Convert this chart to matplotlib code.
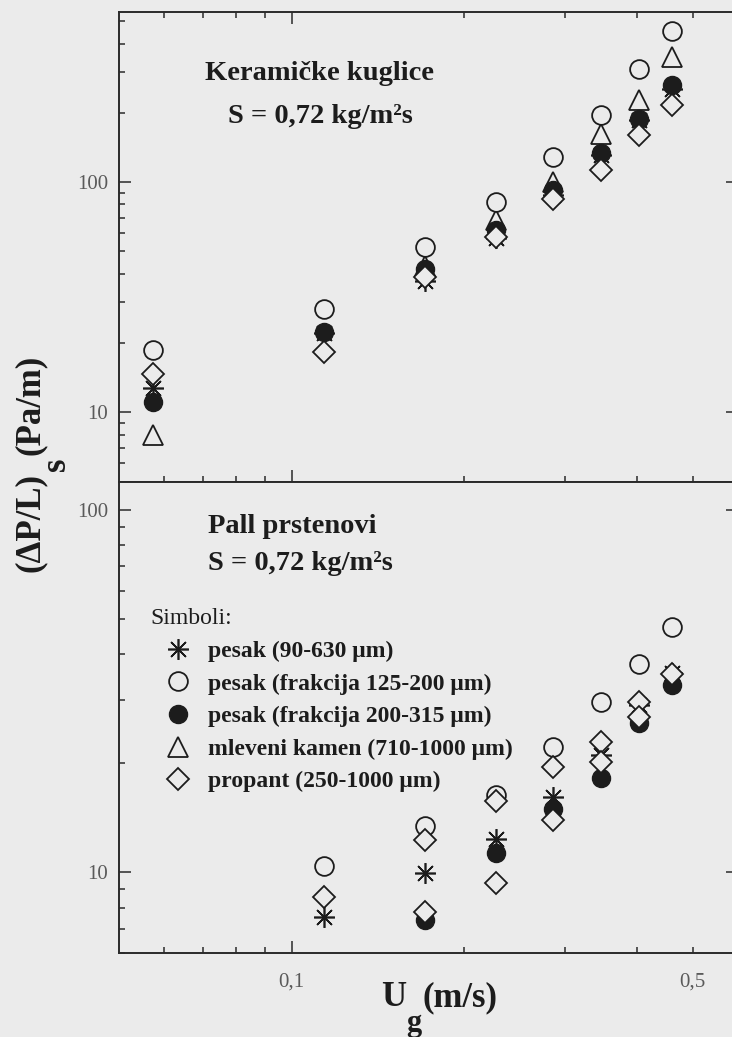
import matplotlib
matplotlib.use("Agg")
import matplotlib.pyplot as plt
from matplotlib.ticker import LogLocator, FixedLocator, FuncFormatter, NullFormatter

# brzina gasa U_g (m/s)
ug_ker = [0.0574, 0.114, 0.171, 0.227, 0.286, 0.346, 0.403, 0.46]
ug_ker_kamen = [0.0574, 0.171, 0.227, 0.286, 0.346, 0.403, 0.46]

# keramičke kuglice, (ΔP/L)_s (Pa/m)
ker_pesak = [12.7, 22.0, 37.0, 57.0, 88.0, 131.0, 186.0, 255.0]
ker_fr125 = [18.7, 28.1, 52.2, 81.9, 128.5, 195.0, 311.0, 453.0]
ker_fr200 = [11.05, 22.3, 42.0, 62.0, 92.0, 134.0, 188.7, 263.0]
ker_kamen = [8.0, 43.0, 68.2, 100.0, 162.0, 228.0, 350.0]
ker_propant = [14.7, 18.2, 38.6, 57.7, 84.7, 112.4, 160.0, 217.0]

# Pall prstenovi
pall_pesak_x = [0.114, 0.171, 0.227, 0.286, 0.346, 0.403, 0.46]
pall_pesak = [7.55, 9.95, 12.4, 16.2, 21.1, 29.0, 35.5]
pall_fr125_x = [0.114, 0.171, 0.227, 0.286, 0.346, 0.403, 0.46]
pall_fr125 = [10.4, 13.4, 16.4, 22.2, 29.6, 37.7, 47.6]
pall_fr200_x = [0.171, 0.227, 0.286, 0.346, 0.403, 0.46]
pall_fr200 = [7.4, 11.3, 15.0, 18.2, 25.8, 32.9]
pall_kamen_x = []
pall_kamen = []
pall_propant_x = [0.114, 0.171, 0.171, 0.227, 0.227, 0.286, 0.286,
                  0.346, 0.346, 0.403, 0.403, 0.46]
pall_propant = [8.54, 12.3, 7.8, 15.7, 9.33, 19.6, 13.96,
                22.9, 20.2, 29.6, 26.9, 35.4]

labels = ["pesak (90-630 μm)",
          "pesak (frakcija 125-200 μm)",
          "pesak (frakcija 200-315 μm)",
          "mleveni kamen (710-1000 μm)",
          "propant (250-1000 μm)"]

bg = "#ebebeb"
ink = "#1c1c1c"
serif = ["Liberation Serif", "DejaVu Serif"]
plt.rcParams["font.family"] = serif

W, H = 732, 1037
fig = plt.figure(figsize=(W / 100, H / 100), dpi=100, facecolor=bg)


def fx(px):
    return px / W


def fy(py):
    return 1 - py / H


ax1 = fig.add_axes([fx(119), fy(481.5), fx(738) - fx(119), fy(11.7) - fy(481.5)])
ax2 = fig.add_axes([fx(119), fy(952.8), fx(738) - fx(119), fy(481.5) - fy(952.8)])

# stilovi simbola
star = dict(marker=(8, 2, 0), ms=15, mew=1.2, color=ink, ls="none")
ocirc = dict(marker="o", ms=13.5, mew=1.3, mfc=bg, mec=ink, ls="none")
fcirc = dict(marker="o", ms=13, mew=1.0, mfc=ink, mec=ink, ls="none")
tri = dict(marker="^", ms=15, mew=1.3, mfc=bg, mec=ink, ls="none")
diam = dict(marker="D", ms=11, mew=1.3, mfc=bg, mec=ink, ls="none")

ax1.plot(ug_ker, ker_pesak, **star)
ax1.plot(ug_ker_kamen, ker_kamen, **tri)
ax1.plot(ug_ker, ker_fr200, **fcirc)
ax1.plot(ug_ker, ker_fr125, **ocirc)
ax1.plot(ug_ker, ker_propant, **diam)

h1, = ax2.plot(pall_pesak_x, pall_pesak, **star)
h4, = ax2.plot(pall_kamen_x, pall_kamen, **tri)
h3, = ax2.plot(pall_fr200_x, pall_fr200, **fcirc)
h2, = ax2.plot(pall_fr125_x, pall_fr125, **ocirc)
h5, = ax2.plot(pall_propant_x, pall_propant, **diam)

for ax, ylim in ((ax1, (5, 550)), (ax2, (6, 120))):
    ax.set_facecolor(bg)
    ax.set_xscale("log")
    ax.set_yscale("log")
    ax.set_xlim(0.05, 0.6)
    ax.set_ylim(*ylim)
    for sp in ax.spines.values():
        sp.set_color("#2a2a2a")
        sp.set_linewidth(1.4)
    ax.xaxis.set_major_locator(FixedLocator([0.1]))
    ax.xaxis.set_minor_locator(FixedLocator([0.06, 0.07, 0.08, 0.09, 0.2, 0.3, 0.4, 0.5]))
    ax.yaxis.set_major_locator(LogLocator(base=10))
    ax.yaxis.set_minor_locator(LogLocator(base=10, subs=range(2, 10)))
    ax.yaxis.set_major_formatter(FuncFormatter(lambda v, p: f"{v:.0f}"))
    ax.yaxis.set_minor_formatter(NullFormatter())
    ax.tick_params(which="both", direction="in", color="#2a2a2a", width=1.1,
                   labelsize=15, labelcolor="#5a5a5a", left=True, right=True)
    ax.tick_params(which="major", length=8.5, pad=8)
    ax.tick_params(which="minor", length=4.5)

ax1.tick_params(which="both", top=True, bottom=True, labelbottom=False)
ax2.tick_params(which="both", top=False, bottom=True)
ax2.xaxis.set_major_formatter(FuncFormatter(lambda v, p: "0,1"))
ax2.xaxis.set_minor_formatter(FuncFormatter(lambda v, p: "0,5" if abs(v - 0.5) < 1e-6 else ""))
ax2.tick_params(axis="x", which="both", pad=14)

title_font = dict(fontsize=20.5, fontweight="bold", color=ink)
ax1.text(0.3247, 0.8546, "Keramičke kuglice", transform=ax1.transAxes,
         ha="center", va="baseline", **title_font)
ax1.text(0.3247, 0.7625, "S = 0,72 kg/m²s", transform=ax1.transAxes,
         ha="center", va="baseline", **title_font)
ax2.text(0.1438, 0.8907, "Pall prstenovi", transform=ax2.transAxes,
         ha="left", va="baseline", **title_font)
ax2.text(0.1438, 0.8122, "S = 0,72 kg/m²s", transform=ax2.transAxes,
         ha="left", va="baseline", **title_font)

leg = ax2.legend([h1, h2, h3, h4, h5], labels, loc="upper left",
                 bbox_to_anchor=(0.0501, 0.731), frameon=False,
                 title="Simboli:", alignment="left", borderpad=0, borderaxespad=0,
                 handlelength=2.35, handletextpad=0.09, labelspacing=0.47,
                 prop=dict(family=serif, size=17, weight="bold"),
                 title_fontproperties=dict(family=serif, size=17))
for t in leg.get_texts():
    t.set_color(ink)
leg.get_title().set_color(ink)

# oznake osa
lab = dict(fontsize=25, fontweight="bold", color=ink)
fig.text(fx(30), fy(522), "(ΔP/L)", rotation=90, ha="center", va="center", **lab)
fig.text(fx(56), fy(464), "s", rotation=90, ha="center", va="center", **lab)
fig.text(fx(30), fy(405), "(Pa/m)", rotation=90, ha="center", va="center", **lab)
fig.text(fx(394), fy(998), "U", ha="center", va="center", **lab)
fig.text(fx(414), fy(1024), "g", ha="center", va="center", fontsize=22,
         fontweight="bold", color=ink)
fig.text(fx(460), fy(998), "(m/s)", ha="center", va="center", **lab)

fig.savefig("out.png", dpi=100, facecolor=bg)
